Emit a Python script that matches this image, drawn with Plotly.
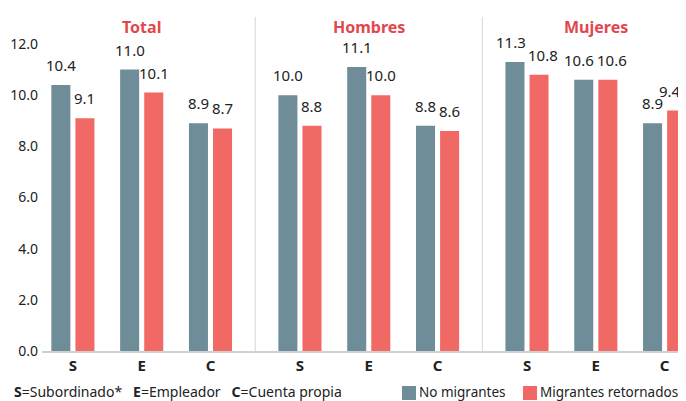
import plotly.graph_objects as go

groups = ["Total", "Hombres", "Mujeres"]
categories = ["S", "E", "C"]
no_migrantes = [[10.4, 11.0, 8.9], [10.0, 11.1, 8.8], [11.3, 10.6, 8.9]]
retornados = [[9.1, 10.1, 8.7], [8.8, 10.0, 8.6], [10.8, 10.6, 9.4]]
series_names = ["No migrantes", "Migrantes retornados"]
y_ticks = [0, 2, 4, 6, 8, 10, 12]
footnote = "<b>S</b>=Subordinado*   <b>E</b>=Empleador   <b>C</b>=Cuenta propia"

# layout constants (page body has an 8px margin, so the figure is drawn offset by 8px)
OFF = 8
W, H = 686 - OFF, 401 - OFF
PL, PR, PT, PB = 42, 686, 44, 351  # plot-area edges in window pixels
ML, MR, MT, MB = PL - OFF, 0, PT - OFF, H - (PB - OFF)
PW, PH = W - ML - MR, H - MT - MB
X_RANGE = [-0.449, 8.911]
GROUP_STEP = 3.30
BARGAP = 0.30
FONT = "Noto Sans"
TEAL = "#6E8D98"
RED = "#F06964"
TITLE_RED = "#E1474E"
TXT = "#222222"
LABEL_SIZE = 15
UNIT_PX = PW / (X_RANGE[1] - X_RANGE[0])
Y_PX = PH / 12


def px_x(p):
    return (p - PL) / PW


def px_y(p):
    return (PB - p) / PH


xs, labels, v1, v2 = [], [], [], []
for gi, g in enumerate(groups):
    for ci, c in enumerate(categories):
        xs.append(gi * GROUP_STEP + ci)
        labels.append(c)
        v1.append(no_migrantes[gi][ci])
        v2.append(retornados[gi][ci])

colors = [TEAL, RED]
fig = go.Figure()
for name, vals, col in zip(series_names, [v1, v2], colors):
    fig.add_trace(go.Bar(x=xs, y=vals, name=name, showlegend=False,
                         marker=dict(color=col, line=dict(width=0))))

annotations = []
slot = (1 - BARGAP) / 2


def text_w(s):
    return sum(4.0 if ch == "." else 8.6 for ch in s)


for i, x in enumerate(xs):
    t1, t2 = f"{v1[i]:.1f}", f"{v2[i]:.1f}"
    push = 0.0
    if abs(v1[i] - v2[i]) * Y_PX < 16:
        need = (text_w(t1) + text_w(t2)) / 2 + 3 - slot * UNIT_PX
        push = max(0.0, need / 2)
    for si, (v, t) in enumerate([(v1[i], t1), (v2[i], t2)]):
        off = (si - 0.5) * slot
        shift = -push if si == 0 else push
        # keep the label inside the picture's right edge
        cx = PL + (x + off - X_RANGE[0]) * UNIT_PX + shift
        over = cx + text_w(t) / 2 - (PR - 5)
        if over > 0:
            shift -= over
        annotations.append(dict(x=x + off, y=v, xref="x", yref="y", text=t,
                                showarrow=False, yanchor="middle", yshift=20,
                                xshift=shift,
                                font=dict(family=FONT, size=LABEL_SIZE, color=TXT)))

shapes = []
for gi in range(len(groups) - 1):
    xm = (gi * GROUP_STEP + 2 + (gi + 1) * GROUP_STEP) / 2
    shapes.append(dict(type="line", xref="x", yref="paper", x0=xm, x1=xm, y0=0, y1=px_y(17),
                       line=dict(color="#d6d6d6", width=1)))

for gi, g in enumerate(groups):
    annotations.append(dict(x=gi * GROUP_STEP + 1, y=px_y(27), xref="x", yref="paper",
                            text=f"<b>{g}</b>", showarrow=False, yanchor="middle",
                            font=dict(family=FONT, size=16, color=TITLE_RED)))

annotations.append(dict(x=px_x(12), y=px_y(391), xref="paper", yref="paper", xanchor="left",
                        yanchor="middle", showarrow=False, text=footnote,
                        font=dict(family=FONT, size=14, color=TXT)))

# manual legend
legend_sq = [402, 523]
for name, col, sx in zip(series_names, colors, legend_sq):
    shapes.append(dict(type="rect", xref="paper", yref="paper",
                       x0=px_x(sx), x1=px_x(sx + 14), y0=px_y(400), y1=px_y(386),
                       fillcolor=col, line=dict(width=0)))
    annotations.append(dict(x=px_x(sx + 15), y=px_y(392), xref="paper", yref="paper",
                            xanchor="left", yanchor="middle", showarrow=False, text=name,
                            font=dict(family=FONT, size=13.5, color=TXT)))

fig.update_layout(
    width=W, height=H,
    margin=dict(l=ML, r=MR, t=MT, b=MB, autoexpand=False),
    paper_bgcolor="white", plot_bgcolor="white",
    barmode="group", bargap=BARGAP, bargroupgap=0.21,
    font=dict(family=FONT, size=14, color=TXT),
    showlegend=False,
    xaxis=dict(tickvals=xs, ticktext=[f"<b>{l}</b>" for l in labels],
               range=X_RANGE,
               showline=True, linecolor="#d0d0d0", linewidth=2, ticks="",
               showgrid=False, zeroline=False, fixedrange=True,
               tickfont=dict(family=FONT, size=15, color=TXT)),
    yaxis=dict(range=[0, 12], tickvals=y_ticks, ticktext=[f"{t:.1f}" for t in y_ticks],
               showgrid=False, zeroline=False, showline=False, ticks="",
               ticklabelstandoff=3,
               tickfont=dict(family=FONT, size=14, color=TXT)),
    shapes=shapes, annotations=annotations,
)

fig.write_html("out.html")
